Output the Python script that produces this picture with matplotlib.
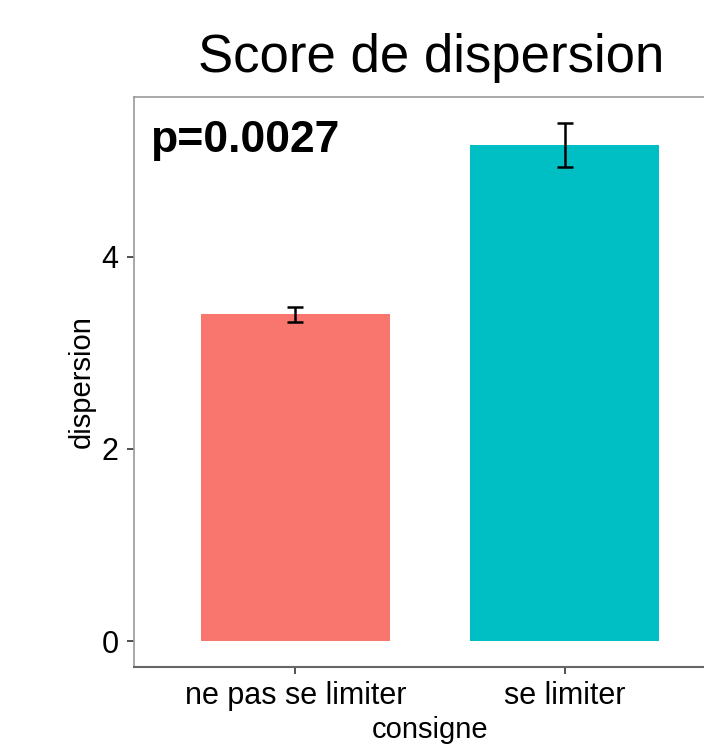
import matplotlib
matplotlib.use('Agg')
import matplotlib.pyplot as plt

plt.rcParams['font.family'] = ['Liberation Sans', 'DejaVu Sans']

categories = ['ne pas se limiter', 'se limiter']
means = [3.40, 5.16]
err_low = [3.32, 4.93]
err_high = [3.48, 5.39]
colors = ['#F8766D', '#00BFC4']
p_text = 'p=0.0027'

fig = plt.figure(figsize=(7.04, 7.46), dpi=100)
# panel runs past the right edge, as in the reference crop
ax = fig.add_axes([134/704, 79/746, 592/704, 570/746])

x = [1, 2]
ax.bar(x, means, width=0.7, color=colors, zorder=2)
yerr = [[m - lo for m, lo in zip(means, err_low)],
        [hi - m for m, hi in zip(means, err_high)]]
ax.errorbar(x, means, yerr=yerr, fmt='none', ecolor='black',
            elinewidth=1.8, capsize=5.5, capthick=1.8, zorder=3)

ax.set_xlim(0.4, 2.6)
ax.set_ylim(-0.27, 5.66)
ax.set_xticks(x)
ax.set_xticklabels(categories)
ax.set_yticks([0, 2, 4])
ax.tick_params(axis='both', length=5, width=1.2, color='#333333',
               labelsize=22, labelcolor='black')
ax.tick_params(axis='y', pad=6)
ax.tick_params(axis='x', pad=5)

for side in ['top', 'right', 'left']:
    ax.spines[side].set_color('#999999')
    ax.spines[side].set_linewidth(1.2)
ax.spines['bottom'].set_color('#666666')
ax.spines['bottom'].set_linewidth(1.5)

ax.set_xlabel('consigne', fontsize=21, labelpad=4)
ax.set_ylabel('dispersion', fontsize=21, labelpad=4)

fig.text(431/704, 1 - 58/746, 'Score de dispersion', fontsize=38,
         ha='center', va='center')
ax.text(0.027, 0.96, p_text, transform=ax.transAxes, fontsize=32,
        fontweight='bold', ha='left', va='top')

fig.savefig('out.png', dpi=100)
